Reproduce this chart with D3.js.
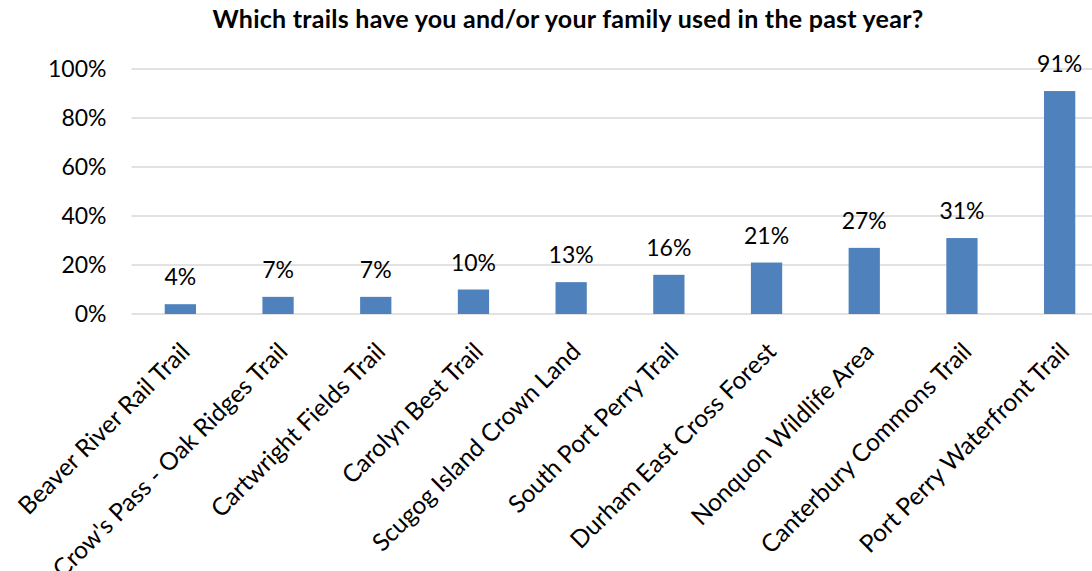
<!DOCTYPE html>
<html>
<head>
<meta charset="utf-8">
<script src="https://cdn.jsdelivr.net/npm/d3@7"></script>
<style>
  html, body { margin: 0; padding: 0; background: #fff; }
  svg { display: block; }
  text { font-family: Lato, "Open Sans", sans-serif; fill: #000; }
</style>
</head>
<body>
<svg id="chart" width="1092" height="571"></svg>
<script>
const titleText = "Which trails have you and/or your family used in the past year?";
const trails = [
  "Beaver River Rail Trail",
  "Crow's Pass - Oak Ridges Trail",
  "Cartwright Fields Trail",
  "Carolyn Best Trail",
  "Scugog Island Crown Land",
  "South Port Perry Trail",
  "Durham East Cross Forest",
  "Nonquon Wildlife Area",
  "Canterbury Commons Trail",
  "Port Perry Waterfront Trail"
];
const usage = [4, 7, 7, 10, 13, 16, 21, 27, 31, 91];
const yTicks = [0, 20, 40, 60, 80, 100];

const svg = d3.select("#chart");
const plot = { left: 131.5, right: 1108.5, top: 69, bottom: 314 };

const x = d3.scaleBand()
  .domain(trails)
  .range([plot.left, plot.right])
  .paddingInner(0.68)
  .paddingOuter(0.34);

const y = d3.scaleLinear()
  .domain([0, 100])
  .range([plot.bottom, plot.top]);

// title
svg.append("text")
  .attr("x", 568)
  .attr("y", 28)
  .attr("text-anchor", "middle")
  .style("font-weight", "bold")
  .style("font-size", "25px")
  .style("letter-spacing", "0.25px")
  .text(titleText);

// horizontal gridlines
svg.append("g")
  .selectAll("line")
  .data(yTicks)
  .join("line")
  .attr("x1", plot.left)
  .attr("x2", plot.right)
  .attr("y1", d => y(d))
  .attr("y2", d => y(d))
  .attr("stroke", "#d9d9d9")
  .attr("stroke-width", 1.5);

// y axis labels
const yAxis = d3.axisLeft(y)
  .tickValues(yTicks)
  .tickFormat(d => d + "%")
  .tickSize(0)
  .tickPadding(0);
const yg = svg.append("g")
  .attr("transform", `translate(${plot.left - 25},0)`)
  .call(yAxis);
yg.select(".domain").remove();
yg.selectAll("text")
  .style("font-size", "23px")
  .style("font-family", "Lato, 'Open Sans', sans-serif")
  .attr("fill", "#000");

// bars
svg.append("g")
  .selectAll("rect")
  .data(usage)
  .join("rect")
  .attr("x", (d, i) => x(trails[i]))
  .attr("width", x.bandwidth())
  .attr("y", d => y(d))
  .attr("height", d => plot.bottom - y(d))
  .attr("fill", "#4f81bd");

// value labels
svg.append("g")
  .selectAll("text")
  .data(usage)
  .join("text")
  .attr("x", (d, i) => x(trails[i]) + x.bandwidth() / 2)
  .attr("y", d => y(d) - 19)
  .attr("text-anchor", "middle")
  .style("font-size", "23px")
  .text(d => d + "%");

// category labels, rotated
const xAxis = d3.axisBottom(x).tickSize(0).tickPadding(0);
const xg = svg.append("g")
  .attr("transform", `translate(0,${plot.bottom})`)
  .call(xAxis);
xg.select(".domain").remove();
xg.selectAll("text")
  .attr("text-anchor", "end")
  .attr("dy", "0.35em")
  .attr("y", 0)
  .attr("transform", "translate(5,33) rotate(-45)")
  .style("font-size", "24.5px")
  .style("font-family", "Lato, 'Open Sans', sans-serif")
  .attr("fill", "#000");
</script>
</body>
</html>
